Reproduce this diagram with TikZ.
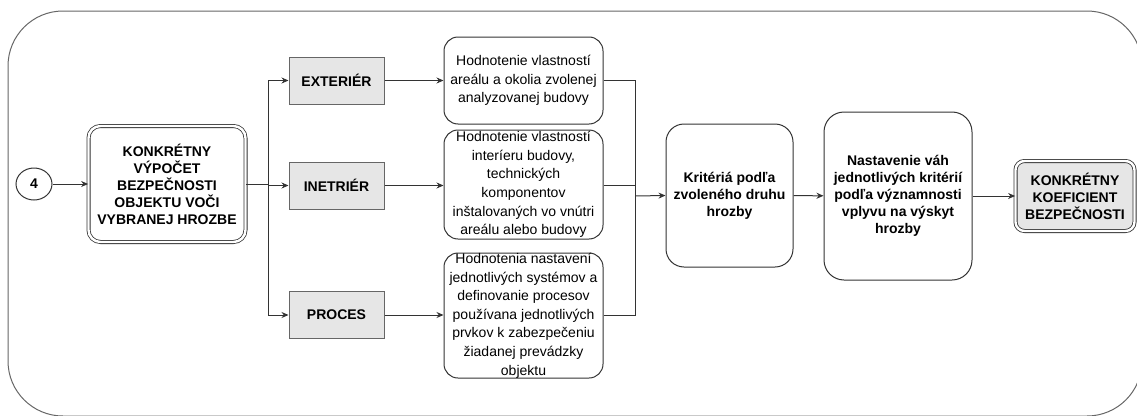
\documentclass[tikz,border=0pt]{standalone}
\usepackage{fontspec}
\setmainfont{Liberation Sans}
\usetikzlibrary{arrows.meta,shapes.geometric}
\definecolor{edge}{HTML}{333333}
\definecolor{frame}{HTML}{666666}
\definecolor{boxfill}{HTML}{E6E6E6}
\tikzset{
  txt/.style={font=\fontsize{14}{18.6}\selectfont, align=center, inner sep=0pt},
  btxt/.style={font=\fontsize{14}{17}\selectfont\bfseries, align=center, inner sep=0pt},
  graybox/.style={btxt, draw=frame, fill=boxfill, line width=1pt},
  roundbox/.style={txt, draw=edge, line width=1pt, rounded corners=14pt},
  doublebox/.style={btxt, draw=edge, line width=0.8pt, double, double distance=2.4pt, rounded corners=12pt},
  conn/.style={draw=edge, line width=1pt, -{Stealth[length=7pt,width=6pt]}},
  link/.style={draw=edge, line width=1pt},
}
\begin{document}
\begin{tikzpicture}[x=1pt,y=-1pt]
\useasboundingbox (0,0) rectangle (1137,415);
% outer frame, partly cut by the page edge
\begin{scope}
  \clip (0,0) rectangle (1137,415);
  \draw[frame, line width=1pt, rounded corners=55pt] (8,11) rectangle (1142,416);
\end{scope}

% start marker
\node[draw=edge, line width=1pt, ellipse, minimum width=36pt, minimum height=32pt, inner sep=0pt,
      font=\fontsize{14}{17}\selectfont\bfseries] (start) at (34,184) {4};

% main computation box
\node[doublebox, minimum width=157pt, minimum height=116pt] (calc) at (167,184)
  {KONKRÉTNY\\VÝPOČET\\BEZPEČNOSTI\\OBJEKTU VOČI\\VYBRANEJ HROZBE};

% three areas
\node[graybox, minimum width=95pt, minimum height=47pt] (ext) at (336.5,80.5) {EXTERIÉR};
\node[graybox, minimum width=95pt, minimum height=47pt] (int) at (336.5,185.5) {INETRIÉR};
\node[graybox, minimum width=95pt, minimum height=47pt] (proc) at (336.5,315) {PROCES};

% descriptions
\node[roundbox, minimum width=159pt, minimum height=87pt] (d1) at (523.5,80.5)
  {Hodnotenie vlastností\\areálu a okolia zvolenej\\analyzovanej budovy};
\node[roundbox, minimum width=159pt, minimum height=109pt] (d2) at (523.5,184.5)
  {Hodnotenie vlastností\\interíeru budovy,\\technických\\komponentov\\inštalovaných vo vnútri\\areálu alebo budovy};
\node[roundbox, minimum width=159pt, minimum height=125pt] (d3) at (523.5,315.5)
  {Hodnotenia nastavení\\jednotlivých systémov a\\definovanie procesov\\používana jednotlivých\\prvkov k zabezpečeniu\\žiadanej prevádzky\\objektu};

% criteria and weights
\node[btxt, draw=edge, line width=1pt, rounded corners=18pt, minimum width=127pt, minimum height=143pt] (crit) at (729.5,195.5)
  {Kritériá podľa\\zvoleného druhu\\hrozby};
\node[btxt, draw=edge, line width=1pt, rounded corners=20pt, minimum width=148pt, minimum height=168pt] (wts) at (898,196)
  {Nastavenie váh\\jednotlivých kritérií\\podľa významnosti\\vplyvu na výskyt\\hrozby};

% result
\node[doublebox, fill=boxfill, rounded corners=9pt, minimum width=119pt, minimum height=70pt] (res) at (1075,196)
  {KONKRÉTNY\\KOEFICIENT\\BEZPEČNOSTI};

% junctions
\coordinate (split) at (268,184);
\coordinate (merge) at (635,196);

\draw[conn] (start) -- (calc);
\draw[link] (calc.east) -- (split);
\draw[conn] (split) |- (ext.west);
\draw[conn] (split) -- (split |- int.west) -- (int.west);
\draw[conn] (split) |- (proc.west);

\draw[conn] (ext) -- (d1.west |- ext.east);
\draw[conn] (int) -- (d2.west |- int.east);
\draw[conn] (proc) -- (d3.west |- proc.east);

\draw[link] (d1.east |- ext.east) -| (merge);
\draw[link] (d2.east |- int.east) -| (merge);
\draw[link] (d3.east |- proc.east) -| (merge);
\draw[conn] (merge) -- (crit.west);

\draw[conn] (crit) -- (wts);
\draw[conn] (wts) -- (res);
\end{tikzpicture}
\end{document}
